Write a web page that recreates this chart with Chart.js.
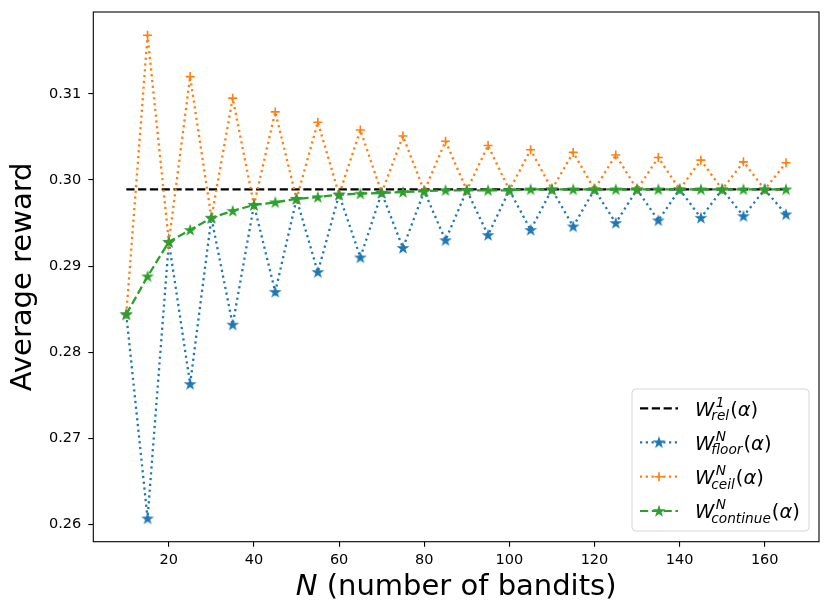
<!DOCTYPE html>
<html>
<head>
<meta charset="utf-8">
<script src="https://cdn.jsdelivr.net/npm/chart.js"></script>
<style>
  html, body { margin: 0; padding: 0; background: #fff; }
  #wrap { width: 831px; height: 615px; position: relative; }
</style>
</head>
<body>
<div id="wrap"><canvas id="chart"></canvas></div>
<script>
// number of bandits
const N = [10, 15, 20, 25, 30, 35, 40, 45, 50, 55, 60, 65, 70, 75, 80, 85,
           90, 95, 100, 105, 110, 115, 120, 125, 130, 135, 140, 145, 150, 155, 160, 165];

const relN = [10, 165];
const relW = [0.2989, 0.2989];

const floorW = [0.2844, 0.2607, 0.2928, 0.2763, 0.2956, 0.2832, 0.2971, 0.2870,
                0.2978, 0.2893, 0.2983, 0.2910, 0.2985, 0.2921, 0.2987, 0.2930,
                0.2988, 0.2936, 0.2988, 0.2942, 0.2989, 0.2946, 0.2989, 0.2950,
                0.2989, 0.2953, 0.2989, 0.2956, 0.2989, 0.2958, 0.2989, 0.2960];

const ceilW = [0.2844, 0.3168, 0.2928, 0.3120, 0.2956, 0.3095, 0.2971, 0.3079,
               0.2978, 0.3067, 0.2983, 0.3058, 0.2985, 0.3051, 0.2987, 0.3045,
               0.2988, 0.3040, 0.2988, 0.3035, 0.2989, 0.3032, 0.2989, 0.3029,
               0.2989, 0.3026, 0.2989, 0.3023, 0.2989, 0.3021, 0.2989, 0.3020];

const continueW = [0.2844, 0.2888, 0.2928, 0.2942, 0.2956, 0.2964, 0.2971, 0.2974,
                   0.2978, 0.2980, 0.2983, 0.2984, 0.2985, 0.2986, 0.2987, 0.2988,
                   0.2988, 0.2988, 0.2988, 0.2989, 0.2989, 0.2989, 0.2989, 0.2989,
                   0.2989, 0.2989, 0.2989, 0.2989, 0.2989, 0.2989, 0.2989, 0.2989];

const xTicks = [20, 40, 60, 80, 100, 120, 140, 160];
const yTicks = [0.26, 0.27, 0.28, 0.29, 0.30, 0.31];

const BLUE = '#1f77b4', ORANGE = '#ff7f0e', GREEN = '#2ca02c';
const DOT = [2.2, 3.6], DASH = [8.2, 3.6];
const FONT = '"DejaVu Sans", sans-serif';

const legendItems = [
  { sup: '1', sub: 'rel',      color: '#000', dash: DASH, marker: null },
  { sup: 'N', sub: 'floor',    color: BLUE,   dash: DOT,  marker: 'star' },
  { sup: 'N', sub: 'ceil',     color: ORANGE, dash: DOT,  marker: 'plus' },
  { sup: 'N', sub: 'continue', color: GREEN,  dash: DASH, marker: 'star' }
];

function starPath(ctx, cx, cy, r) {
  const ri = r * 0.381966;
  ctx.beginPath();
  for (let i = 0; i < 10; i++) {
    const a = -Math.PI / 2 + i * Math.PI / 5;
    const rr = i % 2 === 0 ? r : ri;
    const px = cx + rr * Math.cos(a), py = cy + rr * Math.sin(a);
    if (i === 0) ctx.moveTo(px, py); else ctx.lineTo(px, py);
  }
  ctx.closePath();
}

function starImage(color) {
  const c = document.createElement('canvas');
  c.width = 14; c.height = 14;
  const g = c.getContext('2d');
  starPath(g, 7, 7.4, 4.8);
  g.fillStyle = color; g.strokeStyle = color; g.lineWidth = 1.2; g.lineJoin = 'miter';
  g.fill(); g.stroke();
  return c;
}

function xy(xs, ys) { return xs.map((x, i) => ({ x: x, y: ys[i] })); }

function noEdgePadding(s) {
  s.paddingTop = 0; s.paddingBottom = 0; s.paddingLeft = 0; s.paddingRight = 0;
}

const frameAndLegend = {
  id: 'frameAndLegend',
  afterDraw(chart) {
    const ctx = chart.ctx, a = chart.chartArea;
    ctx.save();
    ctx.strokeStyle = '#000'; ctx.lineWidth = 1.1; ctx.setLineDash([]);
    ctx.strokeRect(a.left, a.top, a.right - a.left, a.bottom - a.top);

    // x axis title, N in italic
    ctx.fillStyle = '#000';
    ctx.textBaseline = 'middle'; ctx.textAlign = 'left';
    ctx.font = 'italic 29px ' + FONT;
    const wN = ctx.measureText('N').width;
    ctx.font = '29px ' + FONT;
    const rest = ' (number of bandits)';
    const wR = ctx.measureText(rest).width;
    let tx = (a.left + a.right) / 2 - (wN + wR) / 2;
    ctx.font = 'italic 29px ' + FONT;
    ctx.fillText('N', tx, 587);
    ctx.font = '29px ' + FONT;
    ctx.fillText(rest, tx + wN, 587);

    // legend box
    const bx = 632, by = 389, bw = 177, bh = 142, rad = 4;
    ctx.beginPath();
    ctx.roundRect(bx, by, bw, bh, rad);
    ctx.fillStyle = 'rgba(255,255,255,0.8)';
    ctx.fill();
    ctx.strokeStyle = '#d6d6d6'; ctx.lineWidth = 1;
    ctx.stroke();

    const rows = [408.3, 442.3, 476.7, 511];
    legendItems.forEach((it, i) => {
      const y = rows[i];
      ctx.strokeStyle = it.color; ctx.lineWidth = 2.2;
      ctx.setLineDash(it.dash);
      ctx.beginPath(); ctx.moveTo(640, y); ctx.lineTo(678, y); ctx.stroke();
      ctx.setLineDash([]);
      if (it.marker === 'star') {
        ctx.drawImage(starImage(it.color), 659 - 7, y - 7);
      } else if (it.marker === 'plus') {
        ctx.lineWidth = 1.6;
        ctx.beginPath();
        ctx.moveTo(659 - 4.5, y); ctx.lineTo(659 + 4.5, y);
        ctx.moveTo(659, y - 4.5); ctx.lineTo(659, y + 4.5);
        ctx.stroke();
      }
      // W^{sup}_{sub}(alpha)
      const base = y + 7.4;
      let x = 695;
      ctx.fillStyle = '#000';
      ctx.textBaseline = 'alphabetic'; ctx.textAlign = 'left';
      ctx.font = 'italic 19.5px ' + FONT;
      ctx.fillText('W', x, base);
      x += ctx.measureText('W').width - 3;
      ctx.font = 'italic 13.7px ' + FONT;
      ctx.fillText(it.sup, x + 4.5, base - 9);
      ctx.fillText(it.sub, x, base + 4.5);
      x += Math.max(ctx.measureText(it.sup).width + 4.5, ctx.measureText(it.sub).width) + 1;
      ctx.font = '19.5px ' + FONT;
      ctx.fillText('(', x, base);
      x += ctx.measureText('(').width;
      ctx.font = 'italic 19.5px ' + FONT;
      ctx.fillText('\u03B1', x, base);
      x += ctx.measureText('\u03B1').width;
      ctx.font = '19.5px ' + FONT;
      ctx.fillText(')', x, base);
    });
    ctx.restore();
  }
};

const ctx = document.getElementById('chart');
new Chart(ctx, {
  type: 'line',
  data: {
    datasets: [
      { label: 'rel', data: xy(relN, relW), borderColor: '#000', borderWidth: 2.2,
        borderDash: DASH, pointRadius: 0, order: 4 },
      { label: 'floor', data: xy(N, floorW), borderColor: BLUE, borderWidth: 2.3,
        borderDash: DOT, pointStyle: starImage(BLUE), pointRadius: 5, order: 3 },
      { label: 'ceil', data: xy(N, ceilW), borderColor: ORANGE, borderWidth: 2.3,
        borderDash: DOT, pointStyle: 'cross', pointRadius: 4.5, pointBorderWidth: 1.6,
        pointBorderColor: ORANGE, order: 2 },
      { label: 'continue', data: xy(N, continueW), borderColor: GREEN, borderWidth: 2.3,
        borderDash: DASH, pointStyle: starImage(GREEN), pointRadius: 5, order: 1 }
    ]
  },
  options: {
    responsive: true,
    maintainAspectRatio: false,
    animation: false,
    layout: { padding: { left: 0, right: 12, top: 12, bottom: 0 } },
    plugins: { legend: { display: false }, tooltip: { enabled: false } },
    elements: { line: { tension: 0, fill: false } },
    scales: {
      x: {
        type: 'linear', min: 2.25, max: 172.75,
        afterBuildTicks: s => { s.ticks = xTicks.map(v => ({ value: v })); },
        afterFit: s => { s.height = 73.3; noEdgePadding(s); },
        border: { display: false },
        grid: { drawOnChartArea: false, drawTicks: true, tickLength: 5, color: '#000', lineWidth: 1.1 },
        ticks: { color: '#000', font: { family: FONT, size: 14.5 }, padding: 5, maxRotation: 0 },
        title: { display: false }
      },
      y: {
        min: 0.2580, max: 0.3195,
        afterBuildTicks: s => { s.ticks = yTicks.map(v => ({ value: v })); },
        afterFit: s => { s.width = 93.3; noEdgePadding(s); },
        border: { display: false },
        grid: { drawOnChartArea: false, drawTicks: true, tickLength: 5, color: '#000', lineWidth: 1.1 },
        ticks: { color: '#000', font: { family: FONT, size: 14.5 }, padding: 7,
                 callback: v => v.toFixed(2) },
        title: { display: true, text: 'Average reward', color: '#000',
                 font: { family: FONT, size: 29, lineHeight: 1 }, padding: { top: 9, bottom: 0 } }
      }
    }
  },
  plugins: [frameAndLegend]
});
</script>
</body>
</html>
